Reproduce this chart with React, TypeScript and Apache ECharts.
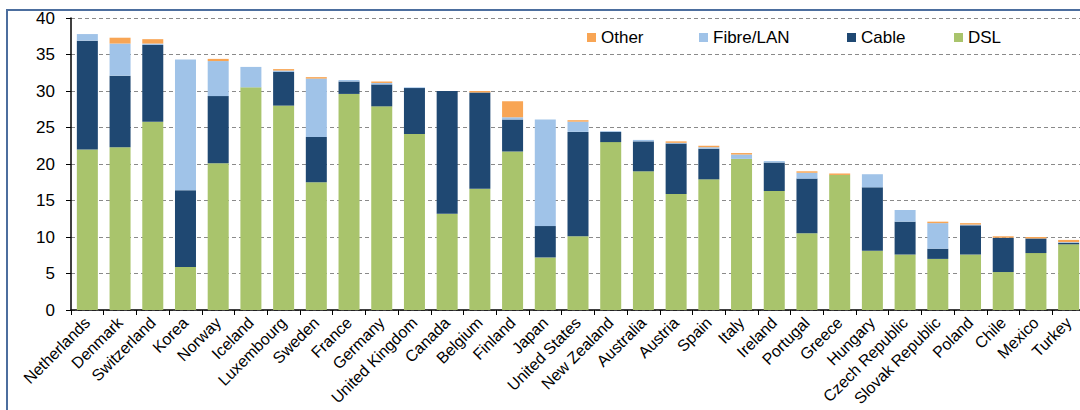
import React, { useEffect, useRef } from "react";
import * as echarts from "echarts";

const countries = [
  "Netherlands", "Denmark", "Switzerland", "Korea", "Norway", "Iceland", "Luxembourg", "Sweden",
  "France", "Germany", "United Kingdom", "Canada", "Belgium", "Finland", "Japan", "United States",
  "New Zealand", "Australia", "Austria", "Spain", "Italy", "Ireland", "Portugal", "Greece",
  "Hungary", "Czech Republic", "Slovak Republic", "Poland", "Chile", "Mexico", "Turkey",
];

const dsl = [22.0, 22.3, 25.8, 5.9, 20.1, 30.5, 28.0, 17.5, 29.6, 27.9, 24.1, 13.2, 16.6, 21.7, 7.2, 10.1,
  23.0, 19.0, 15.9, 17.9, 20.7, 16.3, 10.5, 18.5, 8.1, 7.6, 7.0, 7.6, 5.2, 7.8, 9.0];
const cable = [14.9, 9.8, 10.5, 10.5, 9.2, 0, 4.6, 6.2, 1.7, 3.0, 6.3, 16.8, 13.2, 4.4, 4.3, 14.3,
  1.4, 4.1, 6.9, 4.2, 0, 3.9, 7.5, 0, 8.7, 4.5, 1.4, 4.0, 4.7, 2.0, 0.2];
const fibre = [0.9, 4.4, 0.2, 17.9, 4.8, 2.8, 0.2, 8.0, 0.2, 0.2, 0.1, 0, 0, 0.3, 14.6, 1.4,
  0.1, 0.2, 0.1, 0.2, 0.6, 0.2, 0.8, 0, 1.8, 1.6, 3.5, 0.1, 0, 0, 0.1];
const other = [0, 0.8, 0.6, 0, 0.3, 0, 0.2, 0.2, 0, 0.2, 0, 0, 0.2, 2.2, 0, 0.2,
  0, 0, 0.2, 0.2, 0.2, 0, 0.2, 0.2, 0, 0, 0.2, 0.2, 0.2, 0.2, 0.3];

const yTicks = { min: 0, max: 40, interval: 5 };

const FONT = "'Liberation Sans', Arial, sans-serif";
const COLORS = { DSL: "#A9C46C", Cable: "#1F4872", "Fibre/LAN": "#A0C3E8", Other: "#F8A554" };

export default function App() {
  const ref = useRef<HTMLDivElement>(null);
  useEffect(() => {
    const chart = echarts.init(ref.current!, null, { renderer: "svg" });
    const mk = (name: string, data: number[]) => ({
      name,
      type: "bar",
      stack: "total",
      data,
      barWidth: 21,
      itemStyle: { color: (COLORS as any)[name] },
    });
    const legendAt = (name: string, left: number) => ({
      data: [name],
      left,
      top: 29,
      padding: 0,
      itemWidth: 9,
      itemHeight: 9,
      itemGap: 4,
      icon: "rect",
      selectedMode: false,
      textStyle: { fontFamily: FONT, fontSize: 17, color: "#000" },
    });
    chart.setOption({
      animation: false,
      backgroundColor: "#fff",
      legend: [
        legendAt("Other", 587),
        legendAt("Fibre/LAN", 699),
        legendAt("Cable", 847),
        legendAt("DSL", 954),
      ],
      graphic: [
        {
          type: "rect",
          shape: { x: 7, y: 10, width: 1110, height: 460 },
          style: { fill: "none", stroke: "#4C6E9E", lineWidth: 2 },
          silent: true,
        },
      ],
      grid: {
        left: 71,
        top: 18,
        bottom: 100,
        width: 1014,
        containLabel: false,
        outerBoundsMode: "none",
      },
      xAxis: {
        type: "category",
        data: countries,
        axisLine: { lineStyle: { color: "#000", width: 1.5 } },
        axisTick: { show: true, alignWithLabel: false, length: 5, lineStyle: { color: "#000" } },
        axisLabel: {
          rotate: 45,
          interval: 0,
          fontFamily: FONT,
          fontSize: 16,
          color: "#000",
          margin: 10,
        },
      },
      yAxis: {
        type: "value",
        min: yTicks.min,
        max: yTicks.max,
        interval: yTicks.interval,
        axisLine: { show: true, lineStyle: { color: "#000", width: 1.5 } },
        axisTick: { show: true, length: 5, lineStyle: { color: "#000" } },
        axisLabel: { fontFamily: FONT, fontSize: 17, color: "#000", margin: 16 },
        splitLine: { lineStyle: { color: "#8a8a8a", type: [4, 3], width: 1 } },
      },
      series: [
        mk("DSL", dsl),
        mk("Cable", cable),
        mk("Fibre/LAN", fibre),
        mk("Other", other),
      ],
    });
    return () => chart.dispose();
  }, []);
  return (
    <div
      ref={ref}
      style={{ position: "fixed", left: 0, top: 0, width: 1080, height: 410 }}
    />
  );
}
